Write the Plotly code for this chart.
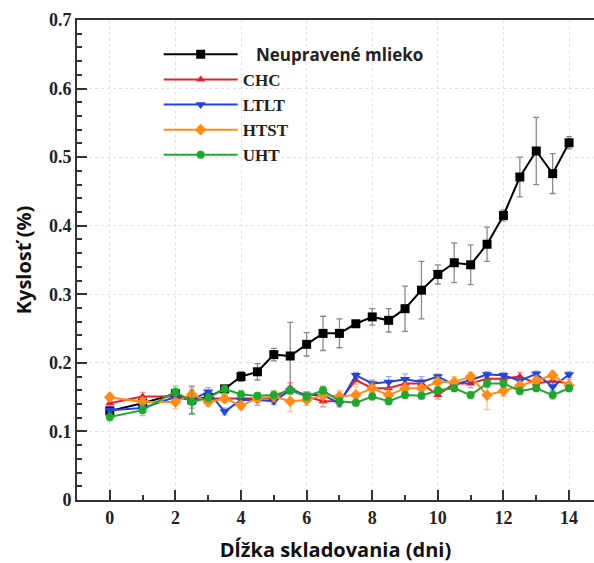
import plotly.graph_objects as go

days = [0, 1, 2, 2.5, 3, 3.5, 4, 4.5, 5, 5.5, 6, 6.5, 7, 7.5, 8, 8.5, 9, 9.5,
        10, 10.5, 11, 11.5, 12, 12.5, 13, 13.5, 14]

raw = [0.130, 0.141, 0.155, 0.146, 0.150, 0.162, 0.180, 0.187, 0.212, 0.210, 0.227,
       0.243, 0.243, 0.257, 0.267, 0.262, 0.279, 0.306, 0.329, 0.346, 0.343,
       0.373, 0.415, 0.471, 0.509, 0.476, 0.521]
raw_err = [0.006, 0.006, 0.006, 0.020, 0.006, 0.005, 0.007, 0.012, 0.009, 0.049, 0.017,
           0.025, 0.021, 0.004, 0.012, 0.017, 0.033, 0.042, 0.014, 0.029, 0.029,
           0.025, 0.008, 0.029, 0.049, 0.029, 0.009]

chc = [0.141, 0.151, 0.151, 0.146, 0.148, 0.148, 0.149, 0.148, 0.148, 0.163, 0.151,
       0.144, 0.144, 0.175, 0.163, 0.163, 0.170, 0.170, 0.153, 0.170, 0.170,
       0.177, 0.177, 0.180, 0.170, 0.174, 0.170]
chc_err = [0.005, 0.006, 0.005, 0.005, 0.005, 0.005, 0.005, 0.005, 0.006, 0.008, 0.005,
           0.008, 0.005, 0.006, 0.006, 0.008, 0.006, 0.006, 0.006, 0.006, 0.006,
           0.006, 0.006, 0.006, 0.006, 0.006, 0.006]

ltlt = [0.131, 0.134, 0.150, 0.146, 0.158, 0.129, 0.146, 0.146, 0.144, 0.160, 0.153,
        0.153, 0.141, 0.182, 0.170, 0.172, 0.176, 0.172, 0.180, 0.168, 0.175,
        0.183, 0.182, 0.174, 0.184, 0.165, 0.183]
ltlt_err = [0.005, 0.005, 0.005, 0.012, 0.006, 0.005, 0.006, 0.008, 0.005, 0.005, 0.005,
            0.005, 0.005, 0.004, 0.005, 0.008, 0.008, 0.008, 0.004, 0.006, 0.006,
            0.004, 0.004, 0.005, 0.004, 0.006, 0.004]

htst = [0.150, 0.143, 0.143, 0.154, 0.143, 0.148, 0.138, 0.148, 0.151, 0.144, 0.146,
        0.153, 0.151, 0.153, 0.163, 0.153, 0.163, 0.163, 0.172, 0.172, 0.180,
        0.153, 0.159, 0.167, 0.174, 0.182, 0.167]
htst_err = [0.006, 0.006, 0.010, 0.010, 0.006, 0.006, 0.006, 0.006, 0.008, 0.015, 0.008,
            0.012, 0.008, 0.012, 0.008, 0.010, 0.008, 0.008, 0.008, 0.008, 0.006,
            0.021, 0.008, 0.006, 0.008, 0.006, 0.006]

uht = [0.121, 0.131, 0.158, 0.143, 0.149, 0.162, 0.154, 0.152, 0.153, 0.160, 0.151,
       0.160, 0.144, 0.142, 0.151, 0.144, 0.153, 0.152, 0.160, 0.163, 0.153,
       0.170, 0.170, 0.159, 0.163, 0.153, 0.163]
uht_err = [0.006, 0.008, 0.008, 0.018, 0.006, 0.005, 0.006, 0.005, 0.006, 0.006, 0.006,
           0.006, 0.006, 0.005, 0.005, 0.005, 0.005, 0.005, 0.005, 0.005, 0.005,
           0.006, 0.006, 0.005, 0.005, 0.006, 0.005]

names = ['<span style="font-family:\'Open Sans\';font-size:17px">&nbsp;&nbsp;&nbsp;Neupravené mlieko</span>',
         'CHC', 'LTLT', 'HTST', 'UHT']
colors = ['#000000', '#e3222b', '#2244d8', '#ff8c1a', '#1fa82f']
err_colors = ['#8a8a8a', 'rgba(227,34,43,0.45)', 'rgba(60,60,200,0.45)',
              'rgba(255,140,26,0.5)', 'rgba(31,168,47,0.5)']
symbols = ['square', 'triangle-up', 'triangle-down', 'diamond', 'circle']
sizes = [9, 8, 9, 9, 8]
series = [(raw, raw_err), (chc, chc_err), (ltlt, ltlt_err), (htst, htst_err), (uht, uht_err)]

fig = go.Figure()
for (vals, errs), name, col, ecol, sym, sz in zip(series, names, colors, err_colors, symbols, sizes):
    fig.add_trace(go.Scatter(
        x=days, y=vals, name=name, mode='lines+markers',
        line=dict(color=col, width=2),
        marker=dict(symbol=sym, size=sz, color=col),
        error_y=dict(type='data', array=errs, visible=True, color=ecol,
                     thickness=1.3, width=3),
    ))

tickfont = dict(family='Liberation Serif', size=18, color='#222', weight='bold')
fig.update_layout(
    width=594, height=563,
    margin=dict(l=77, r=0, t=20, b=63),
    plot_bgcolor='white', paper_bgcolor='white',
    showlegend=True,
    legend=dict(x=0.158, y=0.965, xanchor='left', yanchor='top',
                bgcolor='rgba(0,0,0,0)', borderwidth=0,
                font=dict(family='Liberation Serif', size=17, color='#222', weight='bold'),
                itemwidth=74, tracegroupgap=0),
    xaxis=dict(range=[-1.0, 14.76], tickvals=[0, 2, 4, 6, 8, 10, 12, 14],
               ticks='inside', ticklen=10, tickwidth=2, tickcolor='#333',
               minor=dict(dtick=1, ticks='inside', ticklen=5, tickwidth=1.5, tickcolor='#333', showgrid=False),
               showline=True, linecolor='#333', linewidth=2, mirror=True,
               showgrid=True, gridcolor='#e2e2e2', griddash='dot', gridwidth=1,
               zeroline=False, tickfont=tickfont,
               title=dict(text='Dĺžka skladovania (dni)', standoff=16,
                          font=dict(family='Open Sans', size=20, color='#111', weight='bold'))),
    yaxis=dict(range=[0, 0.7],
               ticks='inside', ticklen=10, tickwidth=2, tickcolor='#333',
               minor=dict(dtick=0.02, ticks='inside', ticklen=5, tickwidth=1.5, tickcolor='#333', showgrid=False),
               showline=True, linecolor='#333', linewidth=2, mirror=False,
               showgrid=True, gridcolor='#e2e2e2', griddash='dot', gridwidth=1,
               zeroline=False, tickfont=tickfont,
               title=dict(text='Kyslosť (%)', standoff=12,
                          font=dict(family='Open Sans', size=20, color='#111', weight='bold'))),
)
fig.update_yaxes(tickvals=[0, 0.1, 0.2, 0.3, 0.4, 0.5, 0.6, 0.7],
                 ticktext=['0', '0.1', '0.2', '0.3', '0.4', '0.5', '0.6', '0.7'])

fig.write_html('out.html')
